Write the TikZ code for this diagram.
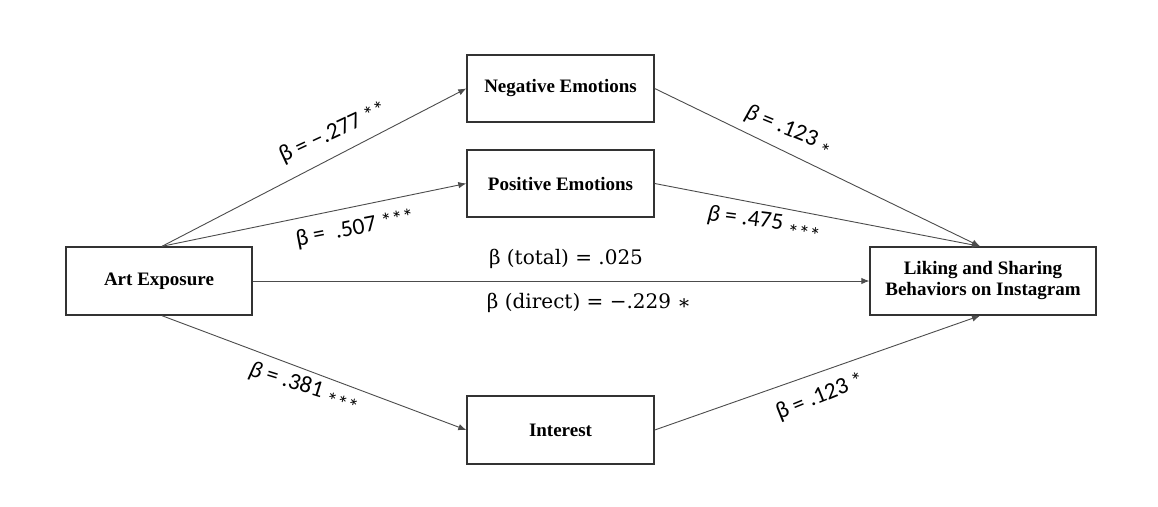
\documentclass[tikz,border=0pt]{standalone}
\usepackage{fontspec}
\setmainfont{Liberation Serif}
\newfontfamily\lblfont{Carlito}
\newfontfamily\midfont{DejaVu Serif}
\usetikzlibrary{arrows.meta}
\newcommand{\stars}[2]{\raisebox{#1}{\fontsize{22}{22}\selectfont #2}}
\tikzset{
  box/.style={draw=black!80, line width=1.4pt, fill=white, align=center,
    font=\fontsize{19}{21}\selectfont\bfseries, inner sep=0pt},
  conn/.style={draw=black!70, line width=0.9pt, -{Latex[length=8pt,width=6.5pt]}},
  lbl/.style={font=\lblfont\fontsize{23.5}{26}\selectfont, inner sep=0pt},
  mid/.style={font=\midfont\fontsize{20}{22}\selectfont, inner sep=0pt}
}
\begin{document}
\begin{tikzpicture}[x=1pt,y=-1pt]
\useasboundingbox (0,0) rectangle (1158,506);
\fill[white] (0,0) rectangle (1158,506);
\node[box, minimum width=186pt, minimum height=68pt] (art) at (159,281) {Art Exposure};
\node[box, minimum width=187pt, minimum height=67pt] (neg) at (560.5,88.5) {Negative Emotions};
\node[box, minimum width=187pt, minimum height=67pt] (pos) at (560.5,183.5) {Positive Emotions};
\node[box, minimum width=187pt, minimum height=68pt] (int) at (560.5,430) {Interest};
\node[box, minimum width=226pt, minimum height=68pt] (like) at (983,281) {Liking and Sharing\\Behaviors on Instagram};
\coordinate (artT) at ([xshift=3pt]art.north);
\coordinate (artB) at ([xshift=3pt]art.south);
\coordinate (likeT) at ([xshift=-3pt]like.north);
\coordinate (likeB) at ([xshift=-3pt]like.south);
\draw[conn] (artT) -- (neg.west);
\draw[conn] (artT) -- (pos.west);
\draw[conn] (artB) -- (int.west);
\draw[conn] (art.east) -- (like.west);
\draw[conn] (neg.east) -- (likeT);
\draw[conn] (pos.east) -- (likeT);
\draw[conn] (int.east) -- (likeB);
\node[lbl, rotate=25] (l1) at (333,133) {β = −.277 \stars{0pt}{**}};
\node[lbl, rotate=11] (l2) at (355,229) {β =\ \ .507 \stars{0pt}{***}};
\node[lbl, rotate=-22] (l3) at (788,132) {{\itshape β} = .123 \stars{-9pt}{*}};
\node[lbl, rotate=-7] (l4) at (764,224) {{\itshape β} = .475 \stars{-9pt}{***}};
\node[lbl, rotate=-17] (l5) at (304,388) {{\itshape β} =\ .381 \stars{-7pt}{***}};
\node[lbl, rotate=22] (l6) at (820,397) {β = .123 \stars{0pt}{*}};
\node[mid] (tot) at (566,259) {β (total) = .025};
\node[mid] (dir) at (589,303) {β (direct) = −.229 \raisebox{-1pt}{∗}};
\end{tikzpicture}
\end{document}
